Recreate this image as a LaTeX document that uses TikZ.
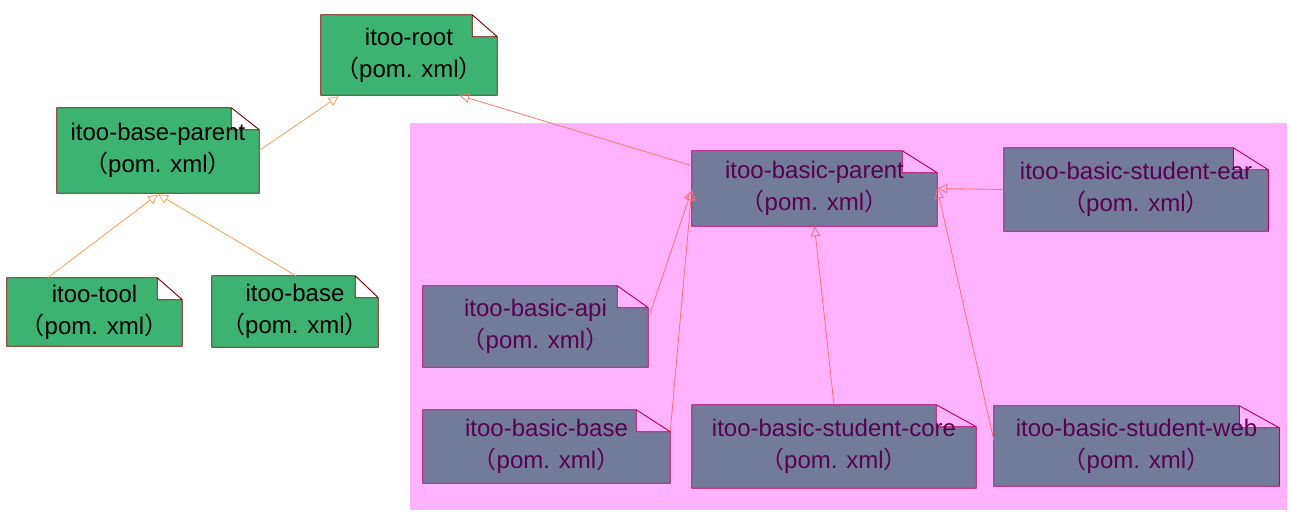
\documentclass[tikz,border=0pt]{standalone}
\usepackage{fontspec}
\setmainfont{Liberation Sans}
\newfontfamily\cjk{Noto Sans CJK SC}
\usepackage{tikz}
\usetikzlibrary{arrows.meta,calc,backgrounds}

\definecolor{notegreen}{HTML}{3CB371}
\definecolor{noteblue}{HTML}{737B9B}
\definecolor{regionpink}{HTML}{FFB3FF}
\definecolor{edgered}{HTML}{8B0000}
\definecolor{edgecrimson}{HTML}{C0005C}
\definecolor{textpurple}{HTML}{5A0050}
\definecolor{lineorange}{HTML}{FFA050}
\definecolor{linered}{HTML}{FF6F70}

\newcommand{\px}{0.75pt}
\newcommand{\pom}[1]{#1\\{\cjk （}pom. xml{\cjk ）}}

\tikzset{
	pomnode/.style 2 args={inner sep=0pt, align=center,
		minimum width=#1*\px, minimum height=#2*\px,
		font=\fontsize{18}{24}\selectfont},
	greennote/.style={fill=notegreen, draw=edgered, line width=0.7pt},
	bluenote/.style={fill=noteblue, draw=edgecrimson, line width=0.7pt},
	inherit/.style={line width=0.6pt, -{Triangle[open,length=7.5pt,width=7pt]}},
}

\begin{document}
\begin{tikzpicture}[x=\px,y=-\px]
	\useasboundingbox (0,0) rectangle (1291,522);
	% left group
	\node[pomnode={176}{80}] (root) at (409,55) {\pom{itoo-root}};
	\node[pomnode={202}{85}] (bparent) at (158,150.5) {\pom{itoo-base-parent}};
	\node[pomnode={175}{68}] (tool) at (94.5,312) {\pom{itoo-tool}};
	\node[pomnode={166}{71}] (base) at (295,311.5) {\pom{itoo-base}};
	% right group
	\begin{scope}[text=textpurple]
	\node[pomnode={245}{75}] (basicpar) at (814.5,188.5) {\pom{itoo-basic-parent}};
	\node[pomnode={264}{83}] (ear) at (1136,189.5) {\pom{itoo-basic-student-ear}};
	\node[pomnode={225}{81}] (api) at (535.5,326.5) {\pom{itoo-basic-api}};
	\node[pomnode={247}{73}] (bbase) at (546.5,446.5) {\pom{itoo-basic-base}};
	\node[pomnode={284}{83}] (core) at (834,446.5) {\pom{itoo-basic-student-core}};
	\node[pomnode={285}{80}] (web) at (1136.5,446) {\pom{itoo-basic-student-web}};
	\end{scope}

	\begin{scope}[on background layer]
		\fill[regionpink] (410,123) rectangle (1287,510);
		\foreach \n/\fw in {root/25, bparent/28, tool/25, base/23}
			\filldraw[greennote]
				(\n.north west) -- ($(\n.north east)+(-\fw,0)$) -- ($(\n.north east)+(0,22)$)
				-- (\n.south east) -- (\n.south west) -- cycle
				($(\n.north east)+(-\fw,0)$) |- ($(\n.north east)+(0,22)$);
		\foreach \n/\fw in {basicpar/35, ear/35, api/31, bbase/34, core/40, web/40}
			\filldraw[bluenote]
				(\n.north west) -- ($(\n.north east)+(-\fw,0)$) -- ($(\n.north east)+(0,22)$)
				-- (\n.south east) -- (\n.south west) -- cycle
				($(\n.north east)+(-\fw,0)$) |- ($(\n.north east)+(0,22)$);
	\end{scope}

	% inheritance arrows
	\draw[inherit, lineorange] (bparent.east) -- ($(root.south west)+(18,1)$);
	\draw[inherit, lineorange] ($(tool.north west)+(41,0)$) -- ($(bparent.south)+(0,1)$);
	\draw[inherit, lineorange] ($(base.north)+(1,0)$) -- ($(bparent.south)+(0,1)$);
	\draw[inherit, linered!80!lineorange] ($(basicpar.north west)+(0,15)$) -- ($(root.south east)+(-38,0)$);
	\draw[inherit, linered] ($(api.north east)+(2,27)$) -- ($(basicpar.west)+(0,1.5)$);
	\draw[inherit, linered] ($(bbase.north east)+(0,22)$) -- ($(basicpar.west)+(0,1.5)$);
	\draw[inherit, linered] (core.north) -- (basicpar.south);
	\draw[inherit, linered] ($(web.north west)+(0,34)$) -- (basicpar.east);
	\draw[inherit, linered] (ear.west) -- (basicpar.east);
\end{tikzpicture}
\end{document}
